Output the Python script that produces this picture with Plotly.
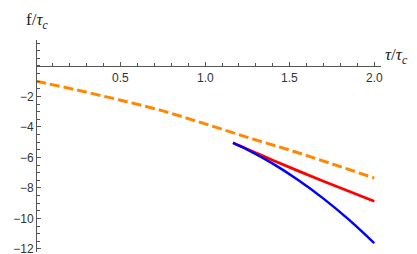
import plotly.graph_objects as go

# Data
x_orange = [0.0, 0.25, 0.5, 0.75, 1.0, 1.25, 1.5, 1.75, 2.0]
y_orange = [-1.0, -1.6, -2.25, -2.95, -3.8, -4.68, -5.52, -6.42, -7.35]

x_red = [1.165, 1.25, 1.4, 1.55, 1.7, 1.85, 2.0]
y_red = [-5.04, -5.46, -6.18, -6.88, -7.56, -8.22, -8.87]

x_blue = [1.165, 1.25, 1.4, 1.55, 1.7, 1.85, 2.0]
y_blue = [-5.04, -5.49, -6.41, -7.48, -8.70, -10.08, -11.62]

x_ticks = [0.5, 1.0, 1.5, 2.0]
x_tick_labels = ["0.5", "1.0", "1.5", "2.0"]
y_ticks = [-12, -10, -8, -6, -4, -2]
y_tick_labels = ["\u221212", "\u221210", "\u22128", "\u22126", "\u22124", "\u22122"]

X_RANGE = [0, 2.04]
Y_RANGE = [-12.2, 1.7]

fig = go.Figure()
fig.add_trace(go.Scatter(x=x_orange, y=y_orange, mode="lines",
                         line=dict(color="#ff8800", width=3, dash="10px,4px", shape="spline")))
fig.add_trace(go.Scatter(x=x_red, y=y_red, mode="lines",
                         line=dict(color="#ff0000", width=2.8, shape="spline")))
fig.add_trace(go.Scatter(x=x_blue, y=y_blue, mode="lines",
                         line=dict(color="#0000ff", width=2.5, shape="spline")))

axis_col = "#555555"
tick_font = dict(family="Liberation Sans, Arial, sans-serif", size=12, color="#333333")

fig.update_layout(
    width=417, height=254,
    margin=dict(l=27, r=43.5, t=31.5, b=5.7),
    paper_bgcolor="white", plot_bgcolor="white",
    showlegend=False,
    xaxis=dict(
        range=X_RANGE, showgrid=False, zeroline=False,
        showline=True, linecolor=axis_col, linewidth=1,
        anchor="free", position=(0 - Y_RANGE[0]) / (Y_RANGE[1] - Y_RANGE[0]),
        side="bottom",
        tickmode="array", tickvals=x_ticks, ticktext=x_tick_labels,
        ticks="inside", ticklen=4, tickwidth=1, tickcolor=axis_col,
        showticklabels=False,
        minor=dict(tick0=0, dtick=0.1, ticks="inside", ticklen=2.5, tickwidth=1, tickcolor=axis_col),
    ),
    yaxis=dict(
        range=Y_RANGE, showgrid=False, zeroline=False,
        showline=True, linecolor=axis_col, linewidth=1,
        anchor="free", position=0,
        tickmode="array", tickvals=y_ticks, ticktext=y_tick_labels,
        ticks="inside", ticklen=4, tickwidth=1, tickcolor=axis_col,
        minor=dict(tick0=0, dtick=0.5, ticks="inside", ticklen=2.5, tickwidth=1, tickcolor=axis_col),
        tickfont=tick_font,
    ),
)

# x tick labels placed just below the axis line (as in the reference)
for xv, lab in zip(x_ticks, x_tick_labels):
    fig.add_annotation(xref="x", yref="y", x=xv, y=0, yshift=-12,
                       xanchor="center", yanchor="middle", showarrow=False,
                       text=lab, font=tick_font)

label_font = dict(family="Liberation Serif, Times New Roman, serif", size=17, color="#222222")
fig.add_annotation(xref="paper", yref="paper", x=-0.035, y=1.0, yshift=19,
                   xanchor="left", yanchor="middle", showarrow=False,
                   text="f/<i>τ</i><sub><i>c</i></sub>", font=label_font)
fig.add_annotation(xref="paper", yref="y", x=1.0, y=0, xshift=2, yshift=10,
                   xanchor="left", yanchor="middle", showarrow=False,
                   text="<i>τ</i>/<i>τ</i><sub><i>c</i></sub>", font=label_font)

fig.write_html("out.html")
